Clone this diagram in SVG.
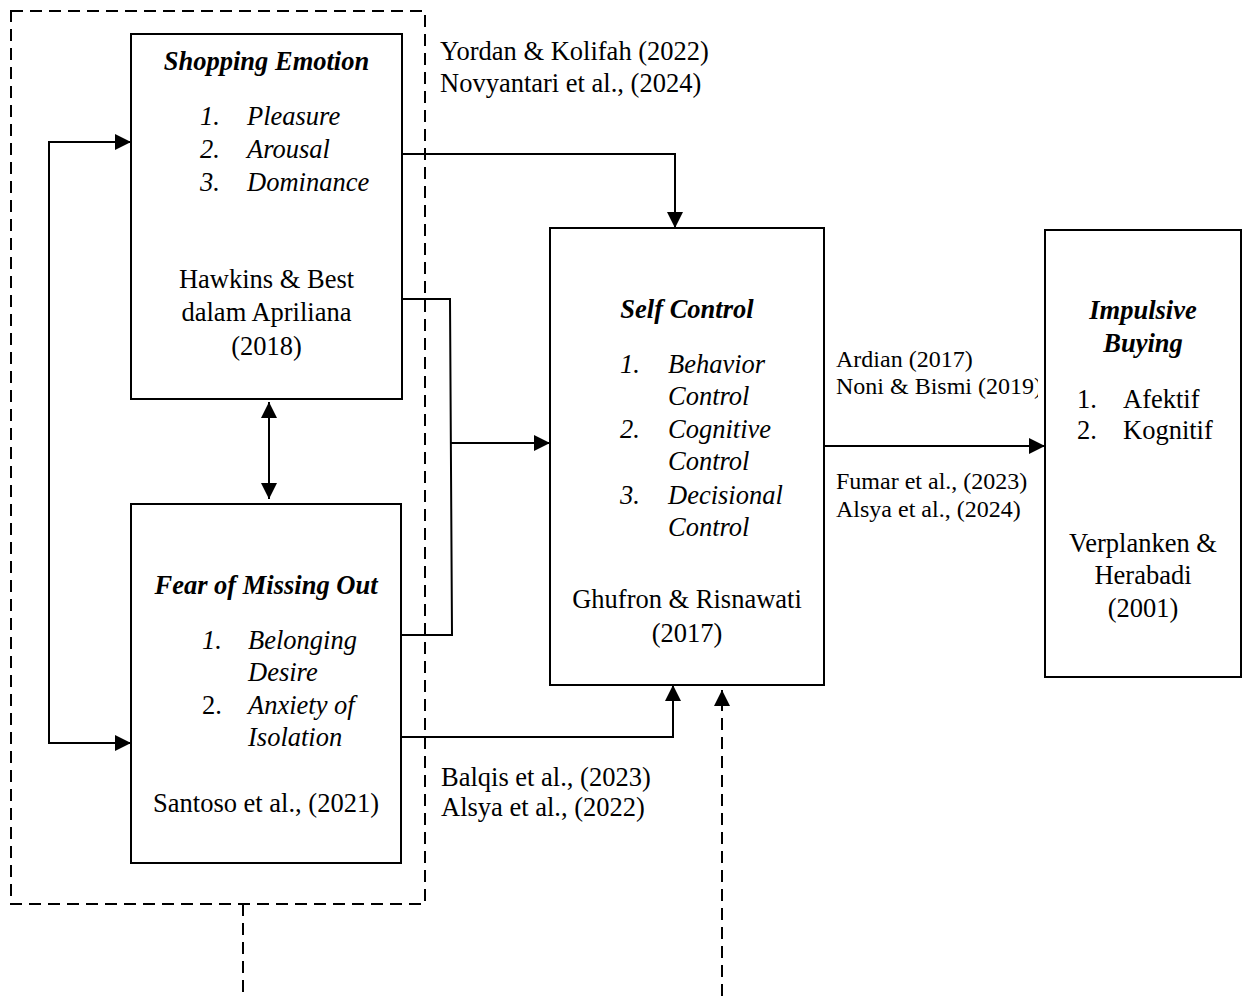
<svg xmlns="http://www.w3.org/2000/svg" width="1246" height="996" viewBox="0 0 1246 996">
<style>
text{font-family:"Liberation Serif","Times New Roman",serif;font-size:26.5px;fill:#000}
.t{font-weight:bold;font-style:italic}
.i{font-style:italic}
.c{text-anchor:middle}
.s{font-size:24px}
.box{fill:#fff;stroke:#000;stroke-width:2}
.ln{fill:none;stroke:#000;stroke-width:2}
.dash{fill:none;stroke:#000;stroke-width:2;stroke-dasharray:12 7}
</style>
<defs>
<marker id="ah" viewBox="0 0 16 16" refX="16" refY="8" markerWidth="16" markerHeight="16" markerUnits="userSpaceOnUse" orient="auto-start-reverse">
<path d="M0,0 L16,8 L0,16 Z" fill="#000"/>
</marker>
<clipPath id="lblclip"><rect x="830" y="370" width="208" height="40"/></clipPath>
</defs>
<rect width="1246" height="996" fill="#fff"/>
<g id="group-boundary">
<rect class="dash" x="11" y="11" width="414" height="893"/>
<line class="dash" x1="243" y1="904" x2="243" y2="996"/>
</g>
<g id="connectors">
<polyline class="ln" points="131,142 49,142 49,743 131,743" marker-start="url(#ah)" marker-end="url(#ah)"/>
<line class="ln" x1="269" y1="402" x2="269" y2="499" marker-start="url(#ah)" marker-end="url(#ah)"/>
<polyline class="ln" points="402,154 675,154 675,228" marker-end="url(#ah)"/>
<polyline class="ln" points="402,299 450,299 452,635 401,635"/>
<line class="ln" x1="451" y1="443" x2="550" y2="443" marker-end="url(#ah)"/>
<polyline class="ln" points="401,737 673,737 673,685" marker-end="url(#ah)"/>
<line class="dash" x1="722" y1="996" x2="722" y2="690" marker-end="url(#ah)"/>
<line class="ln" x1="824" y1="446" x2="1045" y2="446" marker-end="url(#ah)"/>
<text x="440" y="60">Yordan &amp; Kolifah (2022)</text>
<text x="440" y="92">Novyantari et al., (2024)</text>
<text x="441" y="786">Balqis et al., (2023)</text>
<text x="441" y="816">Alsya et al., (2022)</text>
<text class="s" x="836" y="367">Ardian (2017)</text>
<text class="s" x="836" y="394" clip-path="url(#lblclip)">Noni &amp; Bismi (2019)</text>
<text class="s" x="836" y="489">Fumar et al., (2023)</text>
<text class="s" x="836" y="517">Alsya et al., (2024)</text>
</g>
<g id="shopping-emotion">
<rect class="box" x="131" y="34" width="271" height="365"/>
<text class="t c" x="266.5" y="70">Shopping Emotion</text>
<text class="i" x="200" y="125">1.</text><text class="i" x="247" y="125">Pleasure</text>
<text class="i" x="200" y="158">2.</text><text class="i" x="247" y="158">Arousal</text>
<text class="i" x="200" y="191">3.</text><text class="i" x="247" y="191">Dominance</text>
<text class="c" x="266.5" y="288">Hawkins &amp; Best</text>
<text class="c" x="266.5" y="321">dalam Apriliana</text>
<text class="c" x="266.5" y="355">(2018)</text>
</g>
<g id="fomo">
<rect class="box" x="131" y="504" width="270" height="359"/>
<text class="t c" x="266" y="594">Fear of Missing Out</text>
<text class="i" x="202" y="649">1.</text><text class="i" x="248" y="649">Belonging</text>
<text class="i" x="248" y="681">Desire</text>
<text x="202" y="714">2.</text><text class="i" x="248" y="714">Anxiety of</text>
<text class="i" x="248" y="746">Isolation</text>
<text class="c" x="266" y="812">Santoso et al., (2021)</text>
</g>
<g id="self-control">
<rect class="box" x="550" y="228" width="274" height="457"/>
<text class="t c" x="687" y="318">Self Control</text>
<text class="i" x="620" y="373">1.</text><text class="i" x="668" y="373">Behavior</text>
<text class="i" x="668" y="405">Control</text>
<text class="i" x="620" y="438">2.</text><text class="i" x="668" y="438">Cognitive</text>
<text class="i" x="668" y="470">Control</text>
<text class="i" x="620" y="504">3.</text><text class="i" x="668" y="504">Decisional</text>
<text class="i" x="668" y="536">Control</text>
<text class="c" x="687" y="608">Ghufron &amp; Risnawati</text>
<text class="c" x="687" y="642">(2017)</text>
</g>
<g id="impulsive-buying">
<rect class="box" x="1045" y="230" width="196" height="447"/>
<text class="t c" x="1143" y="319">Impulsive</text>
<text class="t c" x="1143" y="352">Buying</text>
<text x="1077" y="408">1.</text><text x="1123" y="408">Afektif</text>
<text x="1077" y="439">2.</text><text x="1123" y="439">Kognitif</text>
<text class="c" x="1143" y="552">Verplanken &amp;</text>
<text class="c" x="1143" y="584">Herabadi</text>
<text class="c" x="1143" y="617">(2001)</text>
</g>
</svg>
